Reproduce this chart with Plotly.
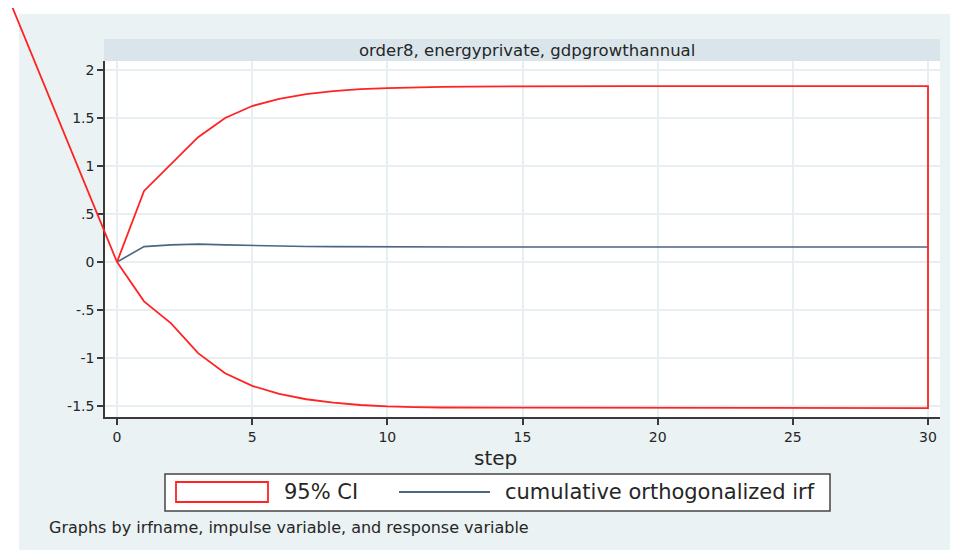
import plotly.graph_objects as go

# ---------------- data ----------------
steps = list(range(31))

irf = [0.0, 0.160, 0.178, 0.186, 0.178, 0.171, 0.165, 0.162, 0.160, 0.158,
       0.157, 0.157, 0.156, 0.156, 0.156, 0.156, 0.156, 0.156, 0.156, 0.156,
       0.156, 0.156, 0.156, 0.156, 0.156, 0.156, 0.156, 0.156, 0.156, 0.156,
       0.156]

ci_upper = [0.0, 0.74, 1.02, 1.30, 1.50, 1.625, 1.700, 1.750, 1.780, 1.800,
            1.812, 1.820, 1.825, 1.828, 1.830, 1.831, 1.832, 1.832, 1.833, 1.833,
            1.833, 1.833, 1.833, 1.833, 1.833, 1.833, 1.833, 1.833, 1.833, 1.833,
            1.833]

ci_lower = [0.0, -0.41, -0.64, -0.95, -1.16, -1.29, -1.375, -1.430, -1.465, -1.490,
            -1.505, -1.512, -1.516, -1.519, -1.520, -1.521, -1.522, -1.522, -1.522, -1.522,
            -1.522, -1.522, -1.522, -1.522, -1.522, -1.522, -1.522, -1.522, -1.522, -1.522,
            -1.522]

# stray start point of the CI outline (lies outside the plot region in the picture)
ci_outline_start = (-3.88, 2.66)

x_tickvals = [0, 5, 10, 15, 20, 25, 30]
y_tickvals = [-1.5, -1, -0.5, 0, 0.5, 1, 1.5, 2]
y_ticktext = ["-1.5", "-1", "-.5", "0", ".5", "1", "1.5", "2"]

panel_title = "order8, energyprivate, gdpgrowthannual"
x_title = "step"
legend_labels = ["95% CI", "cumulative orthogonalized irf"]
note_text = "Graphs by irfname, impulse variable, and response variable"

# ---------------- geometry helpers ----------------
# the page body adds an 8px margin; positions below are page pixels
OFF = 8
W, H = 958 - OFF, 550 - OFF


def px(xp):
    return (xp - OFF) / W


def py(yp):
    return 1 - (yp - OFF) / H


PLOT_L, PLOT_R, PLOT_T, PLOT_B = 105, 940, 61, 417
x_dom = [px(PLOT_L), px(PLOT_R)]
y_dom = [py(PLOT_B), py(PLOT_T)]
x_rng = [-0.444, 30.444]
y_rng = [-1.615, 2.094]


def extend(rng, dom):
    # range of an axis covering the full paper [0,1] with the same scale
    s = (rng[1] - rng[0]) / (dom[1] - dom[0])
    return [rng[0] - dom[0] * s, rng[0] + (1 - dom[0]) * s]


x2_rng = extend(x_rng, x_dom)
y2_rng = extend(y_rng, y_dom)

RED = "rgb(255,35,35)"
BLUE = "#4A6684"
GRID = "#E6EFF1"
AXIS = "#3a3a3a"
TXT = "#262626"
FONT = "DejaVu Sans"

fig = go.Figure()

# irf line on the main axes
fig.add_trace(go.Scatter(x=steps, y=irf, mode="lines",
                         line=dict(color=BLUE, width=1.6),
                         name=legend_labels[1], xaxis="x", yaxis="y",
                         hoverinfo="skip"))

# CI outline on a full-page overlay axis (same scale), so it is not clipped
ci_x = [ci_outline_start[0]] + steps + steps[::-1]
ci_y = [ci_outline_start[1]] + ci_upper + ci_lower[::-1]
fig.add_trace(go.Scatter(x=ci_x, y=ci_y, mode="lines",
                         line=dict(color=RED, width=1.8),
                         name=legend_labels[0], xaxis="x2", yaxis="y2",
                         hoverinfo="skip"))

shapes = [
    # graph region
    dict(type="rect", xref="paper", yref="paper", x0=px(19), x1=px(958), y0=py(550), y1=py(14),
         fillcolor="#EAF2F3", line=dict(width=0), layer="below"),
    # strip
    dict(type="rect", xref="paper", yref="paper", x0=px(104), x1=px(940), y0=py(61), y1=py(39),
         fillcolor="#D9E5EA", line=dict(width=0), layer="below"),
    # plot region
    dict(type="rect", xref="paper", yref="paper", x0=px(104), x1=px(940), y0=py(417), y1=py(61),
         fillcolor="white", line=dict(width=0), layer="below"),
    # legend box
    dict(type="rect", xref="paper", yref="paper", x0=px(165), x1=px(830), y0=py(511), y1=py(474),
         fillcolor="white", line=dict(color="#454545", width=1.5), layer="above"),
    # legend key: CI
    dict(type="rect", xref="paper", yref="paper", x0=px(176), x1=px(268), y0=py(502), y1=py(482),
         fillcolor="white", line=dict(color=RED, width=1.8), layer="above"),
    # legend key: irf
    dict(type="line", xref="paper", yref="paper", x0=px(399), x1=px(490), y0=py(492), y1=py(492),
         line=dict(color=BLUE, width=1.8), layer="above"),
]

annotations = [
    dict(text=panel_title, xref="paper", yref="paper", x=px(527), y=py(50),
         xanchor="center", yanchor="middle", showarrow=False,
         font=dict(family=FONT, size=16.5, color=TXT)),
    dict(text=x_title, xref="paper", yref="paper", x=px(496), y=py(458),
         xanchor="center", yanchor="middle", showarrow=False,
         font=dict(family=FONT, size=20, color=TXT)),
    dict(text=legend_labels[0], xref="paper", yref="paper", x=px(282), y=py(492),
         xanchor="left", yanchor="middle", showarrow=False,
         font=dict(family=FONT, size=21, color=TXT)),
    dict(text=legend_labels[1], xref="paper", yref="paper", x=px(503), y=py(492),
         xanchor="left", yanchor="middle", showarrow=False,
         font=dict(family=FONT, size=21, color=TXT)),
    dict(text=note_text, xref="paper", yref="paper", x=px(47), y=py(527),
         xanchor="left", yanchor="middle", showarrow=False,
         font=dict(family=FONT, size=16, color=TXT)),
]

fig.update_layout(
    width=W, height=H,
    margin=dict(l=0, r=0, t=0, b=0, pad=0),
    paper_bgcolor="white",
    plot_bgcolor="rgba(0,0,0,0)",
    showlegend=False,
    shapes=shapes,
    annotations=annotations,
    xaxis=dict(domain=x_dom, range=x_rng, anchor="y",
               tickmode="array", tickvals=x_tickvals,
               ticks="outside", ticklen=6, tickwidth=1.5, tickcolor=AXIS,
               showline=True, linecolor=AXIS, linewidth=1.5,
               showgrid=True, gridcolor=GRID, gridwidth=1.5, zeroline=False,
               tickfont=dict(family=FONT, size=14, color=TXT), fixedrange=True),
    yaxis=dict(domain=y_dom, range=y_rng, anchor="x",
               tickmode="array", tickvals=y_tickvals, ticktext=y_ticktext,
               ticks="outside", ticklen=6, tickwidth=1.5, tickcolor=AXIS,
               showline=True, linecolor=AXIS, linewidth=1.5,
               showgrid=True, gridcolor=GRID, gridwidth=1.5, zeroline=False,
               tickfont=dict(family=FONT, size=14, color=TXT), fixedrange=True),
    xaxis2=dict(domain=[0, 1], range=x2_rng, anchor="y2", visible=False,
                showgrid=False, zeroline=False, fixedrange=True),
    yaxis2=dict(domain=[0, 1], range=y2_rng, anchor="x2", visible=False,
                showgrid=False, zeroline=False, fixedrange=True),
)

fig.write_html("out.html")
